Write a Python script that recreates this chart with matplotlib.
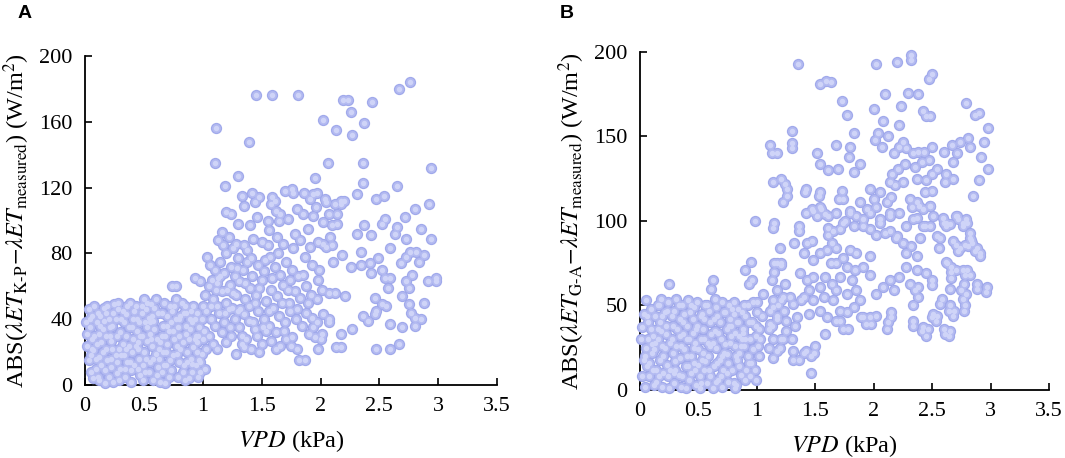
import matplotlib
matplotlib.use("Agg")
import matplotlib.pyplot as plt
from matplotlib.ticker import FuncFormatter

plt.rcParams['font.family'] = ['Liberation Serif', 'DejaVu Serif']
plt.rcParams['mathtext.fontset'] = 'stix'

# ---- panel A: |K-P - measured| vs VPD ----
a_cluster = [
    (0.02, 24), (0.03, 46), (0.04, 40), (0.02, 31), (0.03, 15), (0.05, 18), (0.04, 35), (0.06, 28),
    (0.08, 48), (0.09, 10), (0.07, 21), (0.10, 38), (0.08, 30), (0.11, 44), (0.09, 16), (0.07, 4),
    (0.12, 3), (0.14, 26), (0.13, 42), (0.15, 34), (0.12, 17), (0.16, 47), (0.14, 12), (0.13, 36),
    (0.17, 1), (0.19, 48), (0.18, 22), (0.20, 40), (0.17, 9), (0.21, 30), (0.19, 15), (0.18, 44),
    (0.24, 2), (0.22, 27), (0.25, 49), (0.23, 36), (0.26, 18), (0.22, 11), (0.24, 44), (0.27, 7),
    (0.28, 46), (0.29, 22), (0.30, 32), (0.27, 14), (0.31, 40), (0.29, 3), (0.32, 25), (0.28, 50),
    (0.33, 38), (0.35, 30), (0.34, 10), (0.36, 48), (0.33, 18), (0.37, 24), (0.35, 43), (0.34, 5),
    (0.38, 50), (0.40, 35), (0.39, 2), (0.41, 28), (0.38, 14), (0.42, 45), (0.40, 20), (0.39, 9),
    (0.44, 40), (0.45, 26), (0.43, 48), (0.46, 16), (0.44, 33), (0.47, 6), (0.45, 22), (0.48, 44),
    (0.49, 12), (0.50, 52), (0.48, 30), (0.51, 38), (0.50, 20), (0.52, 46), (0.49, 3), (0.53, 27),
    (0.54, 41), (0.55, 14), (0.53, 35), (0.56, 49), (0.54, 8), (0.57, 24), (0.55, 31), (0.58, 3),
    (0.59, 47), (0.60, 19), (0.58, 39), (0.61, 28), (0.60, 52), (0.62, 11), (0.59, 34), (0.63, 22),
    (0.64, 2), (0.65, 44), (0.63, 16), (0.66, 36), (0.64, 26), (0.67, 50), (0.65, 8), (0.68, 30),
    (0.68, 1), (0.69, 20), (0.70, 42), (0.71, 33), (0.69, 12), (0.72, 48), (0.70, 25), (0.71, 5),
    (0.74, 60), (0.77, 60), (0.73, 38), (0.75, 18), (0.74, 45), (0.76, 28), (0.73, 9), (0.77, 52),
    (0.79, 35), (0.80, 14), (0.78, 24), (0.81, 42), (0.79, 5), (0.82, 50), (0.80, 30), (0.78, 19),
    (0.84, 44), (0.85, 3), (0.83, 26), (0.86, 36), (0.84, 12), (0.87, 20), (0.85, 48), (0.86, 31),
    (0.89, 40), (0.90, 16), (0.88, 28), (0.91, 8), (0.89, 34), (0.92, 23), (0.90, 45), (0.91, 13),
    (0.93, 65), (0.94, 30), (0.95, 20), (0.93, 40), (0.96, 5), (0.94, 12), (0.97, 35), (0.95, 26),
    (0.98, 63), (0.98, 8), (0.99, 19), (1.00, 28), (0.99, 40), (1.01, 33), (0.98, 14), (1.00, 48),
]

a_cluster_fill = [
    (0.05, 8), (0.06, 42), (0.10, 25), (0.11, 5), (0.15, 20), (0.16, 39), (0.20, 5), (0.21, 35),
    (0.23, 22), (0.26, 40), (0.27, 30), (0.30, 10), (0.31, 18), (0.32, 45), (0.36, 14), (0.37, 35),
    (0.41, 40), (0.42, 12), (0.43, 24), (0.46, 38), (0.47, 30), (0.51, 8), (0.52, 16), (0.53, 50),
    (0.56, 28), (0.57, 42), (0.61, 6), (0.62, 44), (0.66, 20), (0.67, 12), (0.70, 36), (0.72, 15),
    (0.75, 33), (0.76, 48), (0.80, 40), (0.81, 22), (0.83, 8), (0.86, 44), (0.87, 14), (0.91, 38),
    (0.92, 48), (0.95, 44), (0.96, 30), (0.97, 15), (1.02, 10), (1.03, 22), (0.01, 38), (0.06, 22),
    (0.12, 31), (0.22, 16), (0.35, 22), (0.45, 10), (0.55, 38), (0.65, 30), (0.77, 40), (0.88, 4),
    (0.93, 28), (0.58, 16), (0.48, 48), (0.18, 30),
]

a_mid = [
    (1.42, 117), (1.33, 115), (1.35, 109), (1.48, 114), (1.44, 111), (1.59, 114), (1.58, 110),
    (1.61, 112), (1.70, 118), (1.76, 119), (1.77, 117), (1.86, 117), (1.91, 113), (1.94, 116),
    (1.97, 117), (2.04, 113), (2.12, 110), (2.17, 112),
    (1.20, 105), (1.24, 104), (1.30, 98), (1.40, 97), (1.46, 102), (1.55, 100), (1.62, 106),
    (1.66, 104), (1.72, 101), (1.80, 107), (1.85, 104), (1.94, 103), (2.02, 99), (2.10, 97),
    (1.16, 93), (1.13, 88), (1.22, 90), (1.28, 86), (1.35, 85), (1.38, 82), (1.43, 89), (1.50, 87),
    (1.56, 94), (1.63, 90), (1.68, 86), (1.78, 92), (1.83, 88), (1.89, 95), (1.98, 87), (2.05, 84),
    (2.08, 90), (1.20, 80), (1.26, 83),
    (1.04, 78), (1.06, 73), (1.10, 70), (1.15, 75), (1.18, 68), (1.24, 72), (1.30, 77), (1.34, 70),
    (1.38, 75), (1.42, 66), (1.47, 73), (1.52, 69), (1.57, 78), (1.61, 72), (1.66, 67), (1.71, 75),
    (1.76, 70), (1.81, 66), (1.87, 78), (1.93, 73), (1.98, 64), (1.13, 65), (1.27, 66),
    (1.02, 55), (1.05, 60), (1.09, 52), (1.12, 62), (1.16, 57), (1.20, 50), (1.23, 61), (1.28, 55),
    (1.31, 63), (1.36, 52), (1.40, 59), (1.45, 55), (1.50, 64), (1.54, 51), (1.58, 58), (1.63, 54),
    (1.68, 61), (1.73, 50), (1.78, 57), (1.83, 53), (1.88, 60), (1.92, 55), (1.97, 52), (2.01, 58),
    (1.12, 48), (1.25, 47),
    (1.03, 45), (1.07, 40), (1.10, 36), (1.14, 44), (1.18, 38), (1.22, 46), (1.27, 40), (1.31, 35),
    (1.35, 43), (1.39, 48), (1.43, 38), (1.47, 45), (1.52, 40), (1.56, 36), (1.60, 47), (1.65, 42),
    (1.70, 38), (1.74, 45), (1.79, 40), (1.84, 36), (1.88, 44), (1.93, 41), (1.97, 38), (2.02, 43),
    (1.33, 30),
    (1.05, 30), (1.09, 25), (1.12, 22), (1.16, 32), (1.20, 26), (1.24, 30), (1.28, 19), (1.33, 25),
    (1.37, 28), (1.41, 22), (1.46, 30), (1.50, 25), (1.54, 33), (1.58, 27), (1.62, 22), (1.66, 24),
    (1.71, 28), (1.76, 29), (1.80, 22), (1.82, 15), (1.87, 15), (1.90, 31), (1.95, 29), (2.00, 28),
    (1.44, 34),
]

a_mid_fill = [
    (1.07, 48), (1.11, 58), (1.15, 66), (1.19, 44), (1.23, 35), (1.26, 56), (1.29, 71), (1.32, 46),
    (1.36, 62), (1.39, 39), (1.41, 77), (1.44, 50), (1.48, 59), (1.51, 35), (1.53, 76), (1.56, 45),
    (1.59, 65), (1.62, 32), (1.64, 80), (1.67, 50), (1.69, 33), (1.72, 58), (1.75, 24), (1.77, 83),
    (1.80, 46), (1.85, 67), (1.89, 50), (1.91, 84), (1.94, 35), (1.99, 70), (1.08, 64), (1.17, 85),
    (1.21, 58), (1.30, 45), (1.35, 23), (1.48, 20), (1.55, 85), (1.65, 100), (1.74, 64), (1.96, 108),
]

a_upper = [
    (1.45, 176), (1.59, 176), (1.81, 176), (2.19, 173), (2.23, 173), (2.26, 166), (2.44, 172),
    (2.67, 180), (2.76, 184), (2.02, 161), (2.13, 155), (2.37, 159), (2.27, 152), (1.11, 156),
    (1.39, 148), (1.10, 135), (2.06, 135), (2.36, 135), (2.36, 123), (2.94, 132), (1.30, 127),
    (1.95, 126), (1.19, 121), (2.65, 121),
]

a_right = [
    (2.31, 116), (2.54, 115), (2.47, 113), (2.92, 110), (2.80, 107), (2.72, 102), (2.55, 101),
    (2.52, 98), (2.37, 97), (2.43, 91), (2.31, 92), (2.65, 96), (2.63, 92), (2.85, 95), (2.94, 89),
    (2.73, 89), (2.34, 81), (2.26, 72), (2.34, 73), (2.42, 74), (2.43, 68), (2.49, 77), (2.59, 83),
    (2.52, 70), (2.68, 74), (2.73, 78), (2.76, 81), (2.81, 81), (2.88, 79), (2.84, 75), (2.78, 67),
    (2.98, 65), (2.98, 63), (2.91, 63), (2.73, 63), (2.75, 59), (2.69, 54), (2.75, 49), (2.77, 44),
    (2.80, 41), (2.88, 50), (2.85, 40), (2.80, 36), (2.69, 35), (2.67, 25), (2.59, 22), (2.59, 37),
    (2.57, 59), (2.55, 65), (2.59, 65), (2.46, 53), (2.47, 45), (2.46, 43), (2.52, 49), (2.56, 48),
    (2.47, 22), (2.36, 42), (2.40, 39), (2.27, 34), (2.21, 54), (2.17, 23), (2.13, 23), (2.17, 31),
    (2.12, 56), (2.07, 56), (2.18, 79), (2.11, 75), (2.14, 98), (2.14, 104), (2.17, 110), (2.20, 112),
    (2.05, 111), (2.07, 104), (2.02, 86), (2.10, 85), (2.07, 40), (2.07, 38), (2.01, 31), (1.98, 22),
]

# ---- panel B: |G-A - measured| vs VPD ----
b_cluster = [
    (0.02, 37), (0.03, 18), (0.01, 30), (0.05, 53), (0.04, 2), (0.06, 14), (0.03, 45), (0.05, 25),
    (0.08, 8), (0.10, 22), (0.07, 40), (0.09, 48), (0.11, 32), (0.08, 16), (0.12, 3), (0.10, 27),
    (0.13, 44), (0.14, 12), (0.15, 36), (0.12, 24), (0.16, 50), (0.14, 5), (0.17, 18), (0.15, 30),
    (0.18, 54), (0.19, 26), (0.20, 10), (0.17, 40), (0.21, 46), (0.19, 2), (0.22, 33), (0.20, 20),
    (0.25, 63), (0.24, 52), (0.23, 15), (0.26, 28), (0.22, 38), (0.25, 1), (0.27, 44), (0.24, 8),
    (0.28, 22), (0.29, 47), (0.30, 12), (0.27, 30), (0.31, 54), (0.29, 4), (0.32, 36), (0.30, 17),
    (0.34, 42), (0.35, 26), (0.33, 9), (0.36, 50), (0.34, 19), (0.37, 33), (0.35, 2), (0.38, 45),
    (0.39, 14), (0.40, 38), (0.41, 53), (0.38, 24), (0.42, 6), (0.40, 30), (0.43, 46), (0.39, 1),
    (0.44, 20), (0.45, 34), (0.46, 49), (0.44, 10), (0.47, 28), (0.45, 42), (0.48, 3), (0.46, 16),
    (0.49, 52), (0.50, 24), (0.51, 8), (0.49, 38), (0.52, 30), (0.50, 15), (0.53, 45), (0.51, 1),
    (0.54, 36), (0.55, 12), (0.56, 50), (0.54, 22), (0.57, 4), (0.55, 42), (0.58, 28), (0.56, 17),
    (0.59, 47), (0.60, 8), (0.61, 33), (0.58, 20), (0.62, 65), (0.61, 60), (0.60, 40), (0.62, 1),
    (0.64, 54), (0.65, 25), (0.63, 14), (0.66, 44), (0.64, 35), (0.67, 6), (0.65, 49), (0.68, 18),
    (0.69, 30), (0.70, 52), (0.71, 12), (0.68, 40), (0.72, 22), (0.70, 2), (0.73, 46), (0.69, 8),
    (0.74, 36), (0.75, 16), (0.76, 50), (0.73, 27), (0.77, 42), (0.75, 5), (0.78, 32), (0.74, 21),
    (0.79, 12), (0.80, 45), (0.81, 26), (0.78, 38), (0.82, 3), (0.80, 52), (0.83, 18), (0.81, 34),
    (0.84, 40), (0.85, 22), (0.86, 9), (0.84, 48), (0.87, 30), (0.85, 14), (0.88, 36), (0.81, 1),
    (0.89, 26), (0.90, 44), (0.91, 12), (0.88, 34), (0.92, 20), (0.90, 6), (0.93, 40), (0.89, 50),
    (0.95, 76), (0.90, 71), (0.96, 65), (0.93, 63), (0.94, 30), (0.95, 16), (0.97, 24), (0.94, 8),
    (0.98, 100), (0.99, 32), (1.00, 46), (0.98, 12), (1.01, 26), (0.99, 38), (1.02, 20), (1.00, 52),
]

b_cluster_fill = [
    (0.02, 8), (0.04, 20), (0.06, 44), (0.09, 36), (0.11, 12), (0.13, 28), (0.16, 8), (0.18, 35),
    (0.21, 25), (0.23, 47), (0.26, 12), (0.28, 38), (0.31, 26), (0.33, 50), (0.36, 8), (0.37, 40),
    (0.40, 20), (0.42, 30), (0.44, 50), (0.47, 12), (0.48, 36), (0.52, 44), (0.53, 18), (0.55, 30),
    (0.57, 50), (0.59, 12), (0.62, 28), (0.63, 42), (0.66, 16), (0.67, 34), (0.70, 20), (0.72, 46),
    (0.74, 10), (0.77, 28), (0.79, 48), (0.82, 20), (0.83, 40), (0.86, 26), (0.87, 46), (0.90, 30),
    (0.92, 50), (0.96, 40), (0.97, 52), (1.02, 36), (1.04, 44), (0.07, 30), (0.19, 44), (0.34, 32),
    (0.46, 25), (0.60, 26), (0.76, 38), (0.85, 32), (0.93, 16), (0.99, 6), (0.15, 50), (0.41, 14),
    (0.65, 5), (0.80, 4), (0.29, 10), (0.52, 4),
]

b_band = [
    (1.11, 39), (1.17, 44), (1.21, 30), (1.25, 35), (1.05, 57), (1.14, 53), (1.18, 50), (1.22, 55),
    (1.11, 47), (1.17, 75), (1.21, 74), (1.15, 70),
    (1.15, 99), (1.20, 84), (1.15, 75), (1.21, 75), (1.13, 65), (1.17, 59), (1.24, 63), (1.21, 53),
    (1.28, 55), (1.14, 49), (1.23, 47), (1.31, 51), (1.38, 53), (1.17, 42), (1.25, 41), (1.33, 38),
    (1.13, 38), (1.43, 87), (1.47, 88), (1.40, 81), (1.48, 77), (1.54, 81), (1.60, 83), (1.64, 87),
    (1.68, 84), (1.63, 75), (1.68, 75), (1.74, 78), (1.80, 83), (1.85, 81), (1.77, 73), (1.84, 71),
    (1.91, 73), (1.97, 79), (1.97, 68), (1.37, 69), (1.43, 65), (1.48, 67), (1.54, 61), (1.58, 67),
    (1.64, 63), (1.68, 59), (1.71, 67), (1.81, 65), (1.45, 59), (1.40, 55), (1.48, 53), (1.57, 55),
    (1.65, 53), (1.77, 57), (1.85, 59), (1.88, 53), (1.83, 49), (1.71, 47), (1.54, 47), (1.60, 43),
    (1.68, 41), (1.45, 45), (1.34, 43),
    (1.54, 108), (1.61, 103), (1.68, 105), (1.75, 100), (1.71, 95), (1.80, 106), (1.85, 103),
    (1.91, 97), (1.97, 105), (2.02, 108), (2.05, 99), (2.10, 93), (2.14, 103), (2.20, 91),
    (2.25, 87), (2.28, 81), (2.32, 85), (2.37, 79), (2.28, 73), (2.22, 67), (2.14, 65), (2.08, 61),
    (2.02, 57), (2.17, 59), (2.31, 63), (2.37, 71), (2.38, 61), (2.45, 69),
    (1.88, 111), (1.94, 107), (2.00, 113), (2.05, 117), (2.11, 111), (2.15, 114), (2.05, 101),
    (2.14, 105), (2.22, 105), (2.31, 113), (2.37, 111), (2.42, 107), (2.48, 109), (2.34, 101),
    (2.44, 97), (2.51, 103), (1.80, 105), (1.74, 99), (1.65, 94), (1.83, 97), (1.91, 101),
    (1.97, 95), (2.02, 92), (2.14, 94), (2.19, 90), (2.28, 97), (2.40, 90), (1.42, 105), (1.47, 107),
    (1.36, 97), (1.31, 23), (1.40, 22), (1.50, 26), (1.14, 30), (1.22, 30), (1.30, 30), (1.17, 23),
    (1.91, 43), (1.97, 43), (2.02, 44), (2.12, 40), (2.15, 46),
]

b_upper = [
    (2.32, 198), (2.32, 195), (2.02, 193), (2.20, 194), (1.35, 193), (2.50, 187), (2.47, 184),
    (1.54, 181), (1.63, 182), (1.59, 183), (2.10, 175), (2.29, 176), (2.38, 175), (1.73, 171),
    (1.77, 163), (2.00, 166), (2.23, 168), (2.42, 165), (2.45, 162), (2.48, 162), (2.79, 170),
    (2.87, 163), (2.90, 164), (2.98, 155), (2.08, 159), (2.22, 157), (1.83, 152), (2.04, 152),
    (2.12, 150), (2.07, 144), (2.01, 148), (1.68, 145), (1.80, 144), (1.79, 138), (1.51, 140),
    (1.54, 134), (1.61, 130), (1.69, 131), (1.88, 134), (1.83, 129), (1.97, 119), (1.42, 119),
    (1.54, 117), (1.73, 118), (1.70, 113), (1.74, 113), (1.48, 106), (1.55, 107), (1.61, 96),
    (1.30, 153), (1.30, 146), (1.30, 143), (1.11, 145), (1.13, 140), (1.17, 140), (1.14, 123),
    (1.21, 125), (1.24, 122), (1.26, 119), (1.26, 115), (1.22, 111), (1.53, 115), (1.41, 117),
    (1.51, 103), (1.58, 104), (1.14, 96), (1.36, 94), (1.32, 87), (1.61, 92),
    (2.17, 140), (2.22, 144), (2.25, 147), (2.28, 143), (2.34, 140), (2.38, 141), (2.43, 141),
    (2.50, 144), (2.47, 136), (2.41, 135), (2.35, 132), (2.27, 134), (2.21, 131), (2.16, 128),
    (2.14, 123), (2.18, 121), (2.25, 123), (2.37, 125), (2.45, 124), (2.50, 128), (2.54, 131),
    (2.60, 141), (2.67, 145), (2.71, 140), (2.74, 147), (2.81, 149), (2.82, 144), (2.94, 147),
    (2.92, 138), (2.98, 131), (2.90, 124), (2.85, 115), (2.62, 128), (2.68, 135), (2.68, 125),
    (2.61, 123), (2.44, 117), (2.50, 118),
]

b_right = [
    (2.62, 99), (2.71, 103), (2.79, 101), (2.57, 90), (2.68, 88), (2.82, 90),
    (2.59, 102), (2.62, 97), (2.72, 101), (2.76, 97), (2.80, 99), (2.82, 93),
    (2.72, 82), (2.78, 86), (2.84, 87), (2.87, 82), (2.91, 79), (2.63, 75), (2.66, 70),
    (2.78, 68), (2.82, 68), (2.50, 62), (2.57, 51), (2.64, 47), (2.68, 44), (2.77, 47), (2.76, 54),
    (2.75, 59), (2.88, 60), (2.96, 58), (2.50, 43), (2.53, 41), (2.41, 35), (2.45, 32), (2.61, 33),
    (2.64, 32), (2.34, 38), (2.15, 43), (2.11, 36), (1.93, 39), (1.98, 39), (1.89, 43), (1.74, 36),
    (1.78, 36), (1.71, 41), (1.77, 46), (1.58, 33), (1.42, 23), (1.46, 20), (1.49, 22), (1.46, 10),
    (1.36, 18), (1.31, 18), (1.20, 25), (1.14, 19), (1.10, 25), (1.03, 30), (1.10, 36),
    (2.34, 50), (2.38, 55), (2.35, 59), (2.50, 65), (2.58, 54), (2.65, 50), (2.69, 47), (2.65, 60),
    (2.66, 66), (2.77, 63), (2.79, 57), (2.78, 50), (2.88, 63), (2.97, 61), (2.62, 76), (2.66, 73),
    (2.70, 71), (2.76, 71), (2.80, 71), (2.56, 84), (2.70, 86), (2.74, 84), (2.81, 85), (2.83, 89),
    (2.88, 84), (2.91, 81), (2.70, 103), (2.76, 99), (2.60, 99), (2.65, 98), (2.54, 91), (2.42, 97),
    (2.48, 97), (2.37, 102), (2.33, 108), (2.39, 109), (2.48, 109), (2.42, 37), (2.46, 36),
    (2.60, 36), (2.65, 35), (2.51, 45), (2.54, 44), (2.34, 41),
]

a_yticks = [0, 40, 80, 120, 160, 200]
b_yticks = [0, 50, 100, 150, 200]
x_ticks = [0, 0.5, 1, 1.5, 2, 2.5, 3, 3.5]

ylab_a = r'ABS($\lambda ET_{\mathrm{K\text{-}P}}$$-$$\lambda ET_{\mathrm{measured}}$) (W/m$^{2}$)'
ylab_b = r'ABS($\lambda ET_{\mathrm{G\text{-}A}}$$-$$\lambda ET_{\mathrm{measured}}$) (W/m$^{2}$)'


def draw_points(ax, groups):
    xs, ys = [], []
    for g in groups:
        for x, y in g:
            xs.append(x)
            ys.append(y)
    # sphere-like markers: darker rim, mid tone, pale centre
    ax.scatter(xs, ys, s=66, color='#a0a9eb', linewidths=0, zorder=3, clip_on=False)
    ax.scatter(xs, ys, s=40, color='#b4bbf1', linewidths=0, zorder=4, clip_on=False)
    ax.scatter(xs, ys, s=15, color='#cfd4f8', linewidths=0, zorder=5, clip_on=False)


def style_axes(ax, yticks, ylabel):
    ax.set_xlim(0, 3.5)
    ax.set_ylim(0, 200)
    ax.set_xticks(x_ticks)
    ax.set_yticks(yticks)
    ax.xaxis.set_major_formatter(FuncFormatter(lambda v, p: ('%g' % v)))
    for s in ['top', 'right']:
        ax.spines[s].set_visible(False)
    for s in ['left', 'bottom']:
        ax.spines[s].set_linewidth(1.3)
    ax.tick_params(direction='in', length=5, width=1.2, labelsize=16, pad=9)
    ax.set_xlabel(r'$VPD$ (kPa)', fontsize=17.5, labelpad=8)
    ax.set_ylabel(ylabel, fontsize=17.5, labelpad=5)


fig = plt.figure(figsize=(10.65, 4.58), dpi=100)

ax1 = fig.add_axes([0.0798, 0.1594, 0.387, 0.7183])
draw_points(ax1, [a_cluster, a_cluster_fill, a_mid, a_mid_fill, a_upper, a_right])
style_axes(ax1, a_yticks, ylab_a)

ax2 = fig.add_axes([0.601, 0.1485, 0.384, 0.738])
draw_points(ax2, [b_cluster, b_cluster_fill, b_band, b_upper, b_right])
style_axes(ax2, b_yticks, ylab_b)

fig.text(0.016, 0.99, 'A', fontsize=14, fontweight='bold', family='Liberation Sans', va='top')
fig.text(0.526, 0.99, 'B', fontsize=14, fontweight='bold', family='Liberation Sans', va='top')

fig.savefig('out.png', dpi=100)
